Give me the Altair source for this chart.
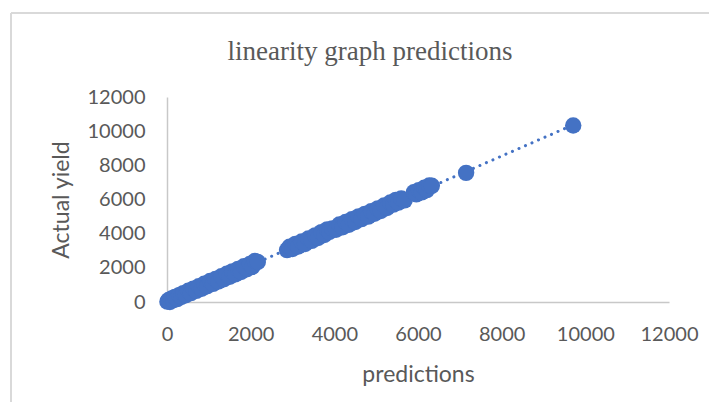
import altair as alt
import pandas as pd

predictions = [10, 40, 70, 110, 150, 190, 240, 290, 340, 390, 450, 510, 570, 630, 700, 760, 830, 890, 960, 1030,
               1100, 1160, 1230, 1300, 1360, 1430, 1500, 1560, 1630, 1700, 1770, 1840, 1910, 1980, 2040, 2100, 2170,
               2870, 2930, 3000, 3070, 3140, 3220, 3300, 3380, 3460, 3540, 3610, 3690, 3760, 3830, 3880, 3950, 4040,
               4120, 4200, 4270, 4350, 4420, 4500, 4580, 4650, 4730, 4810, 4880, 4960, 5040, 5110, 5190, 5260, 5340,
               5410, 5470, 5530, 5600, 5680, 5900, 5960, 6020, 6090, 6150, 6210, 6270, 6330, 7150, 9710]
actual = [20, 120, 0, 200, 110, 300, 170, 400, 290, 520, 400, 660, 520, 780, 650, 920, 780, 1070, 920, 1230,
          1060, 1350, 1200, 1510, 1330, 1650, 1480, 1790, 1620, 1940, 1760, 2090, 1920, 2220, 2060, 2400, 2340,
          3040, 3230, 3100, 3400, 3250, 3540, 3400, 3720, 3580, 3900, 3750, 4090, 3920, 4250, 4100, 4300, 4230,
          4540, 4380, 4680, 4520, 4840, 4680, 5010, 4850, 5160, 5000, 5310, 5170, 5480, 5330, 5650, 5500, 5820,
          5700, 5980, 5820, 6060, 5950, 6420, 6300, 6550, 6420, 6690, 6550, 6820, 6800, 7560, 10330]
ticks = [0, 2000, 4000, 6000, 8000, 10000, 12000]
title_text = "linearity graph predictions"

df = pd.DataFrame({"predictions": predictions, "actual": actual})

BLUE = "#4472C4"
GREY = "#595959"
LABEL_FONT = "Lato"

common_axis = dict(values=ticks, grid=False, ticks=False, domainColor="#C8C8C8", domainWidth=1.5,
                   labelFont=LABEL_FONT, labelFontSize=20, labelColor=GREY, labelOverlap=False,
                   labelFlush=False, format="d",
                   titleFont=LABEL_FONT, titleFontSize=23, titleFontWeight="normal", titleColor=GREY)

x = alt.X("predictions:Q", title="predictions",
          scale=alt.Scale(domain=[0, 12000], nice=False),
          axis=alt.Axis(labelPadding=22, titlePadding=19, **common_axis))
y = alt.Y("actual:Q", title="Actual yield",
          scale=alt.Scale(domain=[0, 12000], nice=False),
          axis=alt.Axis(labelPadding=22, titlePadding=14, **common_axis))

base = alt.Chart(df)

points = base.mark_circle(size=270, color=BLUE, opacity=1).encode(x=x, y=y)

trend = base.mark_line(color=BLUE, strokeWidth=3, strokeDash=[0.1, 7], strokeCap="round").encode(
    x=x, y=y
).transform_regression("predictions", "actual")

one = pd.DataFrame({"a": [0]})
border_left = alt.Chart(one).mark_rule(color="#D9D9D9", strokeWidth=2).encode(
    x=alt.value(-156), y=alt.value(-84), y2=alt.value(330))
border_top = alt.Chart(one).mark_rule(color="#D9D9D9", strokeWidth=2).encode(
    x=alt.value(-156), x2=alt.value(560), y=alt.value(-84))
title = alt.Chart(one).mark_text(font="Liberation Serif", fontSize=27, color=GREY, align="center",
                                 baseline="middle").encode(
    x=alt.value(203), y=alt.value(-45), text=alt.value(title_text))

chart = alt.layer(border_left, border_top, title, trend, points).properties(
    width=502, height=205,
    padding={"left": 159, "top": 89, "right": 40, "bottom": 100},
    autosize="none",
    background="white",
).configure_view(stroke=None)

chart.save("out.html", embed_options={"renderer": "svg", "actions": False})
